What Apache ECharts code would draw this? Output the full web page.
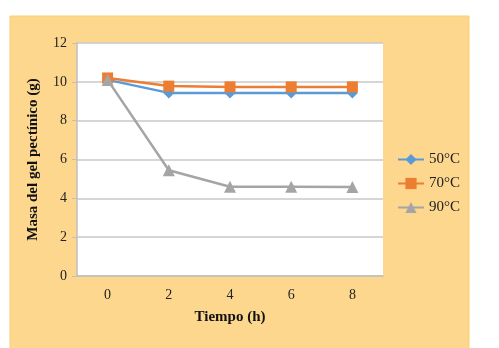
<!DOCTYPE html>
<html>
<head>
<meta charset="utf-8">
<script src="https://cdn.jsdelivr.net/npm/echarts@6/dist/echarts.min.js"></script>
<style>
  html, body { margin: 0; padding: 0; background: #fff; }
  #chart { width: 499px; height: 348px; }
</style>
</head>
<body>
<div id="chart"></div>
<script>
// datos
var tiempos = ["0", "2", "4", "6", "8"];
var serie50 = [10.1, 9.43, 9.43, 9.43, 9.43];
var serie70 = [10.2, 9.78, 9.74, 9.74, 9.74];
var serie90 = [10.1, 5.45, 4.6, 4.6, 4.58];
var nombres = ["50°C", "70°C", "90°C"];
var colores = ["#5B9BD5", "#ED7D31", "#A5A5A5"];

var myChart = echarts.init(document.getElementById("chart"));

function linea(nombre, datos, color, simbolo, tam) {
  return {
    name: nombre,
    type: "line",
    data: datos,
    symbol: simbolo,
    symbolSize: tam,
    lineStyle: { color: color, width: 2.5 },
    itemStyle: { color: color },
    animation: false
  };
}

myChart.setOption({
  backgroundColor: "#fff",
  textStyle: { fontFamily: "Liberation Serif" },
  graphic: [
    {
      type: "rect",
      z: -10,
      shape: { x: 10, y: 16, width: 459, height: 340 },
      style: { fill: "#FDD78E", stroke: "#FCCF6F", lineWidth: 1 }
    }
  ],
  legend: {
    orient: "vertical",
    left: 392,
    top: 147,
    itemGap: 9,
    itemWidth: 26,
    itemHeight: 14,
    textStyle: { fontFamily: "Liberation Serif", fontSize: 15, color: "#222" },
    data: nombres
  },
  grid: {
    left: 77, right: 116, top: 43, bottom: 72,
    show: true,
    backgroundColor: "#fff",
    borderWidth: 0
  },
  xAxis: {
    type: "category",
    data: tiempos,
    boundaryGap: true,
    name: "Tiempo (h)",
    nameLocation: "middle",
    nameGap: 34,
    nameTextStyle: { fontFamily: "Liberation Serif", fontWeight: "bold", fontSize: 15, color: "#111" },
    axisLine: { lineStyle: { color: "#BFBFBF", width: 1.5 } },
    axisTick: { show: false },
    axisLabel: { fontFamily: "Liberation Serif", fontSize: 14, color: "#222", margin: 12 }
  },
  yAxis: {
    type: "value",
    min: 0,
    max: 12,
    interval: 2,
    name: "Masa del gel pectínico (g)",
    nameLocation: "middle",
    nameGap: 36,
    nameTextStyle: { fontFamily: "Liberation Serif", fontWeight: "bold", fontSize: 15, color: "#111" },
    axisLine: { show: true, lineStyle: { color: "#BFBFBF", width: 1.5 } },
    axisTick: { show: true, length: 5, lineStyle: { color: "#BFBFBF" } },
    axisLabel: { fontFamily: "Liberation Serif", fontSize: 14, color: "#222", margin: 10 },
    splitLine: { lineStyle: { color: "#C8C8C8", width: 1.5 } }
  },
  series: [
    linea(nombres[0], serie50, colores[0], "diamond", 11),
    linea(nombres[1], serie70, colores[1], "rect", 11),
    linea(nombres[2], serie90, colores[2], "triangle", 12)
  ]
});
</script>
</body>
</html>
